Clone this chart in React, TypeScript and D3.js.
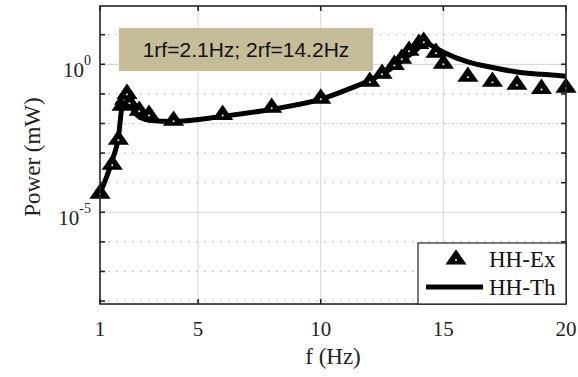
import React from "react";
import * as d3 from "d3";

// Measured (experimental) power spectrum points
const exFreq = [1, 1.5, 1.75, 1.9, 2.0, 2.1, 2.2, 2.6, 3, 4, 6, 8, 10, 12, 12.5, 13, 13.3, 13.6, 14, 14.2, 14.7, 15, 16, 17, 18, 19, 20];
const exPower = [-4.32, -3.34, -2.5, -1.35, -1.15, -0.95, -1.25, -1.52, -1.66, -1.86, -1.66, -1.42, -1.11, -0.54, -0.27, 0.03, 0.24, 0.51, 0.74, 0.81, 0.44, 0.07, -0.37, -0.54, -0.64, -0.78, -0.74].map((e) => Math.pow(10, e));

// Theoretical curve
const thFreq = [1, 1.5, 1.75, 1.9, 2.0, 2.1, 2.2, 2.4, 2.7, 3, 4, 6, 8, 10, 11, 12, 13, 13.5, 14, 14.2, 14.5, 15, 16, 17, 18, 19, 20];
const thPower = [-4.36, -3.24, -2.47, -1.39, -1.05, -0.81, -1.15, -1.62, -1.82, -1.89, -1.93, -1.76, -1.52, -1.18, -0.88, -0.54, -0.07, 0.24, 0.57, 0.78, 0.64, 0.41, 0.08, -0.11, -0.26, -0.34, -0.4].map((e) => Math.pow(10, e));

const xTicks = [1, 5, 10, 15, 20];
const yDecades = [-8, -7, -6, -5, -4, -3, -2, -1, 0, 1];
const yLabelled = [0, -5];
const annotation = "1rf=2.1Hz; 2rf=14.2Hz";
const legendLabels = ["HH-Ex", "HH-Th"];

const W = 578;
const H = 377;
const M = { left: 100, right: 566, top: 6, bottom: 304 };

const serif = "'Liberation Serif', 'Times New Roman', serif";
const sans = "'Liberation Sans', Arial, sans-serif";

const tri = "M0,-8.8L10.6,6.5L-10.6,6.5Z";

export default function App() {
  const x = d3.scaleLinear().domain([1, 20]).range([M.left, M.right]);
  const y = d3.scaleLog().domain([Math.pow(10, -8.1), Math.pow(10, 1.97)]).range([M.bottom, M.top]);

  const line = d3
    .line<number>()
    .x((_, i) => x(thFreq[i]))
    .y((d) => y(d))
    .curve(d3.curveMonotoneX);

  const frame = "#222";

  return (
    <svg width={W} height={H} style={{ position: "absolute", left: 0, top: 0, background: "#fff" }}>
      <rect x={0} y={0} width={W} height={H} fill="#fff" />
      {/* grid */}
      {xTicks.slice(1, -1).map((t) => (
        <line key={"gx" + t} x1={x(t)} x2={x(t)} y1={M.top} y2={M.bottom} stroke="#dcdcdc" strokeWidth={1.2} />
      ))}
      {yDecades.map((e) =>
        yLabelled.includes(e) ? (
          <line key={"gy" + e} x1={M.left} x2={M.right} y1={y(Math.pow(10, e))} y2={y(Math.pow(10, e))} stroke="#d8d8d8" strokeWidth={1.2} />
        ) : (
          <line key={"gy" + e} x1={M.left} x2={M.right} y1={y(Math.pow(10, e))} y2={y(Math.pow(10, e))} stroke="#c4c4c4" strokeWidth={1.2} strokeDasharray="2,6" />
        )
      )}

      {/* annotation box */}
      <rect x={119} y={28} width={254} height={43} fill="#c5bc98" />
      <text x={246} y={57} textAnchor="middle" fontFamily={sans} fontSize={21} fill="#111">
        {annotation}
      </text>

      {/* theory curve */}
      <path d={line(thPower) || ""} fill="none" stroke="#000" strokeWidth={5} strokeLinejoin="round" />

      {/* experimental markers */}
      {exPower.map((p, i) => (
        <g key={"m" + i} transform={`translate(${x(exFreq[i])},${y(p)})`}>
          <path d={tri} fill="#000" />
          <circle cx={0} cy={2} r={1} fill="#fff" />
        </g>
      ))}

      {/* frame */}
      <rect x={M.left} y={M.top} width={M.right - M.left} height={M.bottom - M.top} fill="none" stroke={frame} strokeWidth={1.6} />

      {/* ticks */}
      {xTicks.map((t) => (
        <g key={"tx" + t}>
          <line x1={x(t)} x2={x(t)} y1={M.bottom} y2={M.bottom - 5} stroke={frame} strokeWidth={1.6} />
          <line x1={x(t)} x2={x(t)} y1={M.top} y2={M.top + 5} stroke={frame} strokeWidth={1.6} />
          <text x={x(t)} y={336} textAnchor="middle" fontFamily={serif} fontSize={21} fill="#222">
            {t}
          </text>
        </g>
      ))}
      {yDecades.map((e) => (
        <g key={"ty" + e}>
          <line x1={M.left} x2={M.left + 5} y1={y(Math.pow(10, e))} y2={y(Math.pow(10, e))} stroke={frame} strokeWidth={1.6} />
          <line x1={M.right} x2={M.right - 5} y1={y(Math.pow(10, e))} y2={y(Math.pow(10, e))} stroke={frame} strokeWidth={1.6} />
        </g>
      ))}
      {yLabelled.map((e) => (
        <text key={"ly" + e} x={91} y={y(Math.pow(10, e)) + 13} textAnchor="end" fontFamily={serif} fontSize={21} fill="#222">
          10
          <tspan dy={-12} fontSize={14}>
            {e}
          </tspan>
        </text>
      ))}

      {/* axis titles */}
      <text x={333} y={364} textAnchor="middle" fontFamily={serif} fontSize={23} fill="#222">
        f (Hz)
      </text>
      <text transform={`translate(40,${(M.top + M.bottom) / 2 + 2}) rotate(-90)`} textAnchor="middle" fontFamily={serif} fontSize={23} fill="#222">
        Power (mW)
      </text>

      {/* legend */}
      <rect x={418} y={243} width={148} height={61} fill="#fff" stroke={frame} strokeWidth={1.2} />
      <g transform="translate(456,258)">
        <path d={tri} fill="#000" />
        <circle cx={0} cy={2} r={1} fill="#fff" />
      </g>
      <line x1={426} x2={483} y1={287} y2={287} stroke="#000" strokeWidth={5} />
      <text x={489} y={267} fontFamily={serif} fontSize={23} fill="#111">
        {legendLabels[0]}
      </text>
      <text x={489} y={295} fontFamily={serif} fontSize={23} fill="#111">
        {legendLabels[1]}
      </text>
    </svg>
  );
}
